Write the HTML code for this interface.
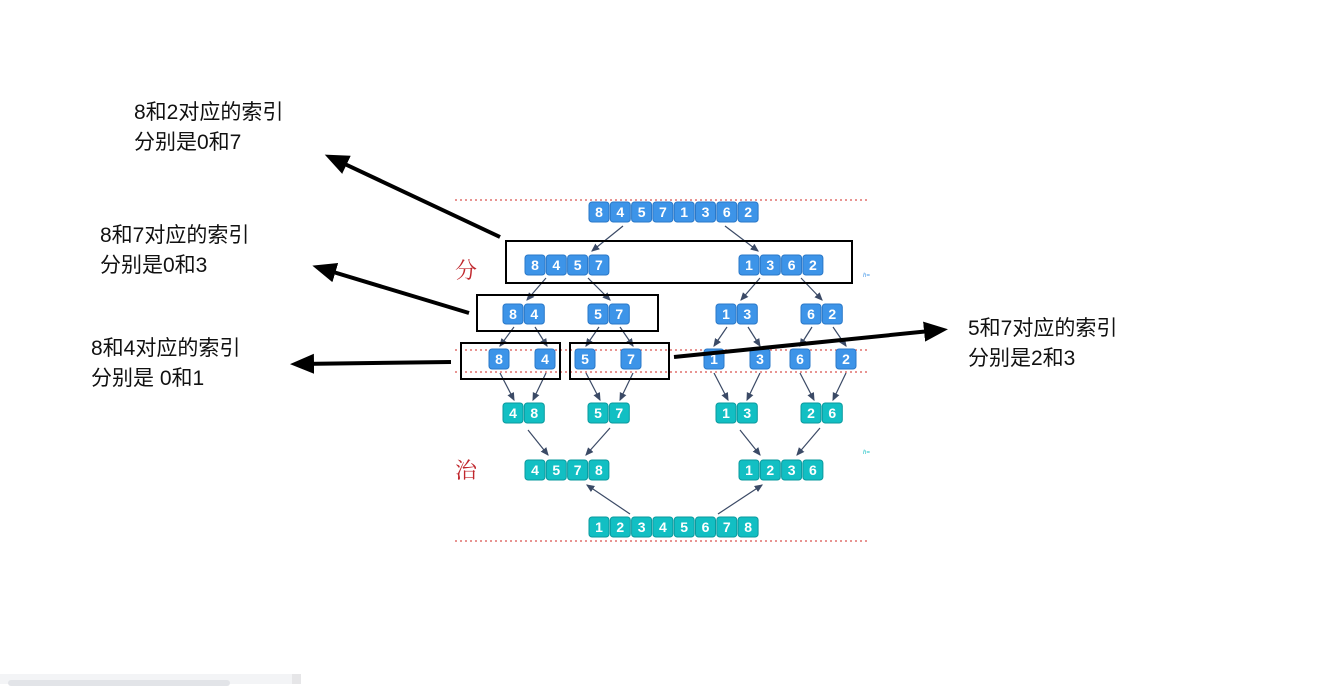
<!DOCTYPE html>
<html><head><meta charset="utf-8"><style>
body{margin:0;background:#fff;width:1333px;height:684px;overflow:hidden;position:relative;font-family:"Liberation Sans","Noto Sans CJK SC",sans-serif}
.l{position:absolute;font-size:21px;line-height:30px;color:#111;white-space:nowrap}
</style></head><body>
<div class="l" style="left:134px;top:98px">8和2对应的索引<br>分别是0和7</div>
<div class="l" style="left:100px;top:221px">8和7对应的索引<br>分别是0和3</div>
<div class="l" style="left:91px;top:334px">8和4对应的索引<br>分别是 0和1</div>
<div class="l" style="left:968px;top:314px">5和7对应的索引<br>分别是2和3</div>
<div style="position:absolute;left:0;top:674px;width:292px;height:10px;background:#f3f4f6"></div>
<div style="position:absolute;left:8px;top:680px;width:222px;height:6px;background:#e2e4e8;border-radius:3px"></div>
<div style="position:absolute;left:292px;top:674px;width:9px;height:10px;background:#e6e6e8"></div>
<svg width="1333" height="684" style="position:absolute;left:0;top:0" font-family="Liberation Sans, sans-serif">
<defs>
<marker id="a" markerWidth="8" markerHeight="8" refX="6" refY="3" orient="auto"><path d="M0,0 L7,3 L0,6 z" fill="#3b4a66"/></marker>
<marker id="b" markerWidth="6" markerHeight="6" refX="4" refY="2.5" orient="auto" markerUnits="strokeWidth"><path d="M0,0 L6,2.5 L0,5 z" fill="#000"/></marker>
</defs>
<g stroke="#d9534f" stroke-width="1.2" stroke-dasharray="2,3">
<line x1="455" y1="200" x2="870" y2="200"/><line x1="455" y1="350" x2="870" y2="350"/><line x1="455" y1="372" x2="870" y2="372"/><line x1="455" y1="541" x2="870" y2="541"/>
</g>
<text x="455" y="278" font-size="22" fill="#c0262c" font-family="Noto Serif CJK SC, serif">分</text>
<text x="455" y="478" font-size="22" fill="#c0262c" font-family="Noto Serif CJK SC, serif">治</text>
<g stroke="#3b4a66" stroke-width="1.2" marker-end="url(#a)">
<line x1="623" y1="226" x2="592" y2="251"/><line x1="725" y1="226" x2="758" y2="251"/>
<line x1="546" y1="278" x2="527" y2="300"/><line x1="588" y1="278" x2="610" y2="300"/>
<line x1="760" y1="278" x2="741" y2="300"/><line x1="801" y1="278" x2="822" y2="300"/>
<line x1="514" y1="327" x2="500" y2="346"/><line x1="535" y1="327" x2="547" y2="346"/>
<line x1="599" y1="327" x2="586" y2="346"/><line x1="620" y1="327" x2="633" y2="346"/>
<line x1="727" y1="327" x2="714" y2="346"/><line x1="748" y1="327" x2="760" y2="346"/>
<line x1="812" y1="327" x2="800" y2="346"/><line x1="833" y1="327" x2="846" y2="346"/>
<line x1="500" y1="373" x2="514" y2="400"/><line x1="546" y1="373" x2="533" y2="400"/>
<line x1="586" y1="373" x2="600" y2="400"/><line x1="633" y1="373" x2="620" y2="400"/>
<line x1="714" y1="373" x2="728" y2="400"/><line x1="760" y1="373" x2="747" y2="400"/>
<line x1="800" y1="373" x2="814" y2="400"/><line x1="846" y1="373" x2="833" y2="400"/>
<line x1="528" y1="430" x2="548" y2="455"/><line x1="610" y1="428" x2="586" y2="455"/>
<line x1="740" y1="430" x2="760" y2="455"/><line x1="820" y1="428" x2="797" y2="455"/>
<line x1="630" y1="514" x2="587" y2="485"/><line x1="718" y1="514" x2="762" y2="485"/>
</g>
<g stroke-width="1" font-size="14" font-weight="bold" text-anchor="middle">
<g fill="#3d94e8" stroke="#2a78c8">
<rect x="589" y="202" width="20" height="20" rx="3"/><rect x="610.3" y="202" width="20" height="20" rx="3"/><rect x="631.6" y="202" width="20" height="20" rx="3"/><rect x="652.9" y="202" width="20" height="20" rx="3"/><rect x="674.2" y="202" width="20" height="20" rx="3"/><rect x="695.5" y="202" width="20" height="20" rx="3"/><rect x="716.8" y="202" width="20" height="20" rx="3"/><rect x="738.1" y="202" width="20" height="20" rx="3"/>
<rect x="525" y="255" width="20" height="20" rx="3"/><rect x="546.3" y="255" width="20" height="20" rx="3"/><rect x="567.6" y="255" width="20" height="20" rx="3"/><rect x="588.9" y="255" width="20" height="20" rx="3"/>
<rect x="739" y="255" width="20" height="20" rx="3"/><rect x="760.3" y="255" width="20" height="20" rx="3"/><rect x="781.6" y="255" width="20" height="20" rx="3"/><rect x="802.9" y="255" width="20" height="20" rx="3"/>
<rect x="503" y="304" width="20" height="20" rx="3"/><rect x="524.3" y="304" width="20" height="20" rx="3"/><rect x="588" y="304" width="20" height="20" rx="3"/><rect x="609.3" y="304" width="20" height="20" rx="3"/>
<rect x="716" y="304" width="20" height="20" rx="3"/><rect x="737.3" y="304" width="20" height="20" rx="3"/><rect x="801" y="304" width="20" height="20" rx="3"/><rect x="822.3" y="304" width="20" height="20" rx="3"/>
<rect x="489" y="349" width="20" height="20" rx="3"/><rect x="535" y="349" width="20" height="20" rx="3"/><rect x="575" y="349" width="20" height="20" rx="3"/><rect x="621" y="349" width="20" height="20" rx="3"/><rect x="704" y="349" width="20" height="20" rx="3"/><rect x="750" y="349" width="20" height="20" rx="3"/><rect x="790" y="349" width="20" height="20" rx="3"/><rect x="836" y="349" width="20" height="20" rx="3"/>
</g>
<g fill="#12bfc3" stroke="#0a9a9e">
<rect x="503" y="403" width="20" height="20" rx="3"/><rect x="524.3" y="403" width="20" height="20" rx="3"/><rect x="588" y="403" width="20" height="20" rx="3"/><rect x="609.3" y="403" width="20" height="20" rx="3"/>
<rect x="716" y="403" width="20" height="20" rx="3"/><rect x="737.3" y="403" width="20" height="20" rx="3"/><rect x="801" y="403" width="20" height="20" rx="3"/><rect x="822.3" y="403" width="20" height="20" rx="3"/>
<rect x="525" y="460" width="20" height="20" rx="3"/><rect x="546.3" y="460" width="20" height="20" rx="3"/><rect x="567.6" y="460" width="20" height="20" rx="3"/><rect x="588.9" y="460" width="20" height="20" rx="3"/>
<rect x="739" y="460" width="20" height="20" rx="3"/><rect x="760.3" y="460" width="20" height="20" rx="3"/><rect x="781.6" y="460" width="20" height="20" rx="3"/><rect x="802.9" y="460" width="20" height="20" rx="3"/>
<rect x="589" y="517" width="20" height="20" rx="3"/><rect x="610.3" y="517" width="20" height="20" rx="3"/><rect x="631.6" y="517" width="20" height="20" rx="3"/><rect x="652.9" y="517" width="20" height="20" rx="3"/><rect x="674.2" y="517" width="20" height="20" rx="3"/><rect x="695.5" y="517" width="20" height="20" rx="3"/><rect x="716.8" y="517" width="20" height="20" rx="3"/><rect x="738.1" y="517" width="20" height="20" rx="3"/>
</g>
<g fill="#fff" stroke="none">
<text x="599" y="217">8</text><text x="620.3" y="217">4</text><text x="641.6" y="217">5</text><text x="662.9" y="217">7</text><text x="684.2" y="217">1</text><text x="705.5" y="217">3</text><text x="726.8" y="217">6</text><text x="748.1" y="217">2</text>
<text x="535" y="270">8</text><text x="556.3" y="270">4</text><text x="577.6" y="270">5</text><text x="598.9" y="270">7</text>
<text x="749" y="270">1</text><text x="770.3" y="270">3</text><text x="791.6" y="270">6</text><text x="812.9" y="270">2</text>
<text x="513" y="319">8</text><text x="534.3" y="319">4</text><text x="598" y="319">5</text><text x="619.3" y="319">7</text>
<text x="726" y="319">1</text><text x="747.3" y="319">3</text><text x="811" y="319">6</text><text x="832.3" y="319">2</text>
<text x="499" y="364">8</text><text x="545" y="364">4</text><text x="585" y="364">5</text><text x="631" y="364">7</text><text x="714" y="364">1</text><text x="760" y="364">3</text><text x="800" y="364">6</text><text x="846" y="364">2</text>
<text x="513" y="418">4</text><text x="534.3" y="418">8</text><text x="598" y="418">5</text><text x="619.3" y="418">7</text>
<text x="726" y="418">1</text><text x="747.3" y="418">3</text><text x="811" y="418">2</text><text x="832.3" y="418">6</text>
<text x="535" y="475">4</text><text x="556.3" y="475">5</text><text x="577.6" y="475">7</text><text x="598.9" y="475">8</text>
<text x="749" y="475">1</text><text x="770.3" y="475">2</text><text x="791.6" y="475">3</text><text x="812.9" y="475">6</text>
<text x="599" y="532">1</text><text x="620.3" y="532">2</text><text x="641.6" y="532">3</text><text x="662.9" y="532">4</text><text x="684.2" y="532">5</text><text x="705.5" y="532">6</text><text x="726.8" y="532">7</text><text x="748.1" y="532">8</text>
</g>
</g>
<text x="863" y="277" font-size="6" fill="#3d94e8" font-style="italic">h=</text>
<text x="863" y="454" font-size="6" fill="#12bfc3" font-style="italic">h=</text>
<g fill="none" stroke="#000" stroke-width="2">
<rect x="506" y="241" width="346" height="42"/>
<rect x="477" y="295" width="181" height="36"/>
<rect x="461" y="343" width="99" height="36"/>
<rect x="570" y="343" width="99" height="36"/>
</g>
<g stroke="#000" stroke-width="4" marker-end="url(#b)">
<line x1="500" y1="237" x2="332" y2="158"/>
<line x1="469" y1="313" x2="320" y2="268"/>
<line x1="451" y1="362" x2="298" y2="364"/>
<line x1="674" y1="357" x2="940" y2="330"/>
</g>
</svg>
</body></html>
